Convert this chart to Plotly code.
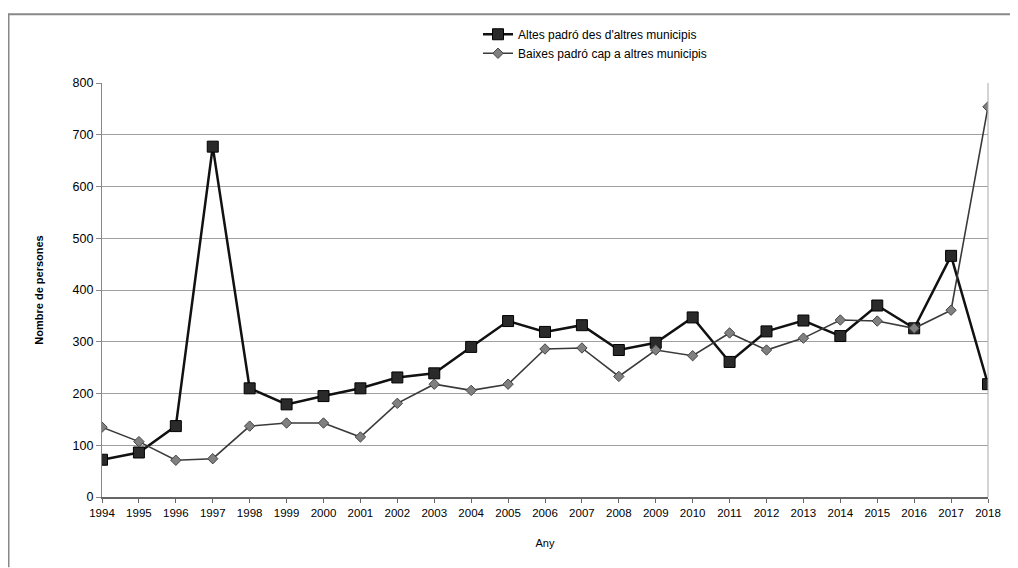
import plotly.graph_objects as go

years = list(range(1994, 2019))
altes = [72, 86, 137, 677, 210, 179, 195, 210, 231, 239, 290, 340, 319, 332, 284, 298, 347, 261, 320, 341, 311, 370, 326, 466, 218]
baixes = [135, 107, 71, 74, 137, 143, 143, 116, 181, 218, 206, 218, 286, 288, 233, 284, 273, 317, 284, 307, 342, 340, 326, 361, 754]
y_ticks = [0, 100, 200, 300, 400, 500, 600, 700, 800]

fig = go.Figure()
fig.add_trace(go.Scatter(
    x=years, y=altes, mode="lines+markers", name="Altes padró des d'altres municipis",
    line=dict(color="#111111", width=2.5),
    marker=dict(symbol="square", size=11, color="#2a2a2a", line=dict(color="#000000", width=1)),
))
fig.add_trace(go.Scatter(
    x=years, y=baixes, mode="lines+markers", name="Baixes padró cap a altres municipis",
    line=dict(color="#3a3a3a", width=1.6),
    marker=dict(symbol="diamond", size=8, color="#808080", line=dict(color="#444444", width=1)),
))

# page has an 8px body margin; work in figure coordinates
W, H = 1010, 560
L, R, T, B = 94, 980, 70, 489

def px_x(p):
    return (p - L) / (R - L)

def px_y(p):
    return (B - p) / (B - T)

fig.update_layout(
    width=W, height=H,
    margin=dict(l=L, r=W - R, t=T, b=H - B),
    paper_bgcolor="white", plot_bgcolor="white",
    font=dict(family="Liberation Sans, Arial, sans-serif", size=11, color="#000000"),
    showlegend=True,
    legend=dict(x=px_x(470), y=px_y(6), xanchor="left", yanchor="top",
                font=dict(size=12, color="#000"), bgcolor="rgba(0,0,0,0)",
                tracegroupgap=0, itemwidth=30),
    xaxis=dict(
        range=[1994, 2018], tickmode="array", tickvals=years, ticktext=[str(y) for y in years],
        showgrid=False, zeroline=False, showline=True, linecolor="#666666", linewidth=1.5,
        ticks="outside", ticklen=4, tickcolor="#666666",
        tickfont=dict(size=11.5),
        title=dict(text="Any", font=dict(size=11), standoff=22),
    ),
    yaxis=dict(
        range=[0, 800], tickmode="array", tickvals=y_ticks,
        showgrid=True, gridcolor="#a0a0a0", gridwidth=1.2, zeroline=False,
        showline=True, linecolor="#888888", linewidth=1.2,
        ticks="outside", ticklen=5, tickcolor="#888888",
        tickfont=dict(size=12.5),
        title=dict(text="<b>Nombre de persones</b>", font=dict(size=11), standoff=26),
    ),
    shapes=[
        dict(type="line", xref="paper", yref="paper", x0=px_x(0), x1=px_x(W), y0=px_y(0.5), y1=px_y(0.5),
             line=dict(color="#888888", width=2)),
        dict(type="line", xref="paper", yref="paper", x0=px_x(0.5), x1=px_x(0.5), y0=px_y(0), y1=px_y(H),
             line=dict(color="#888888", width=2)),
        dict(type="line", xref="paper", yref="paper", x0=1, x1=1, y0=0, y1=1,
             line=dict(color="#aaaaaa", width=1)),
    ],
)

fig.write_html("out.html")
